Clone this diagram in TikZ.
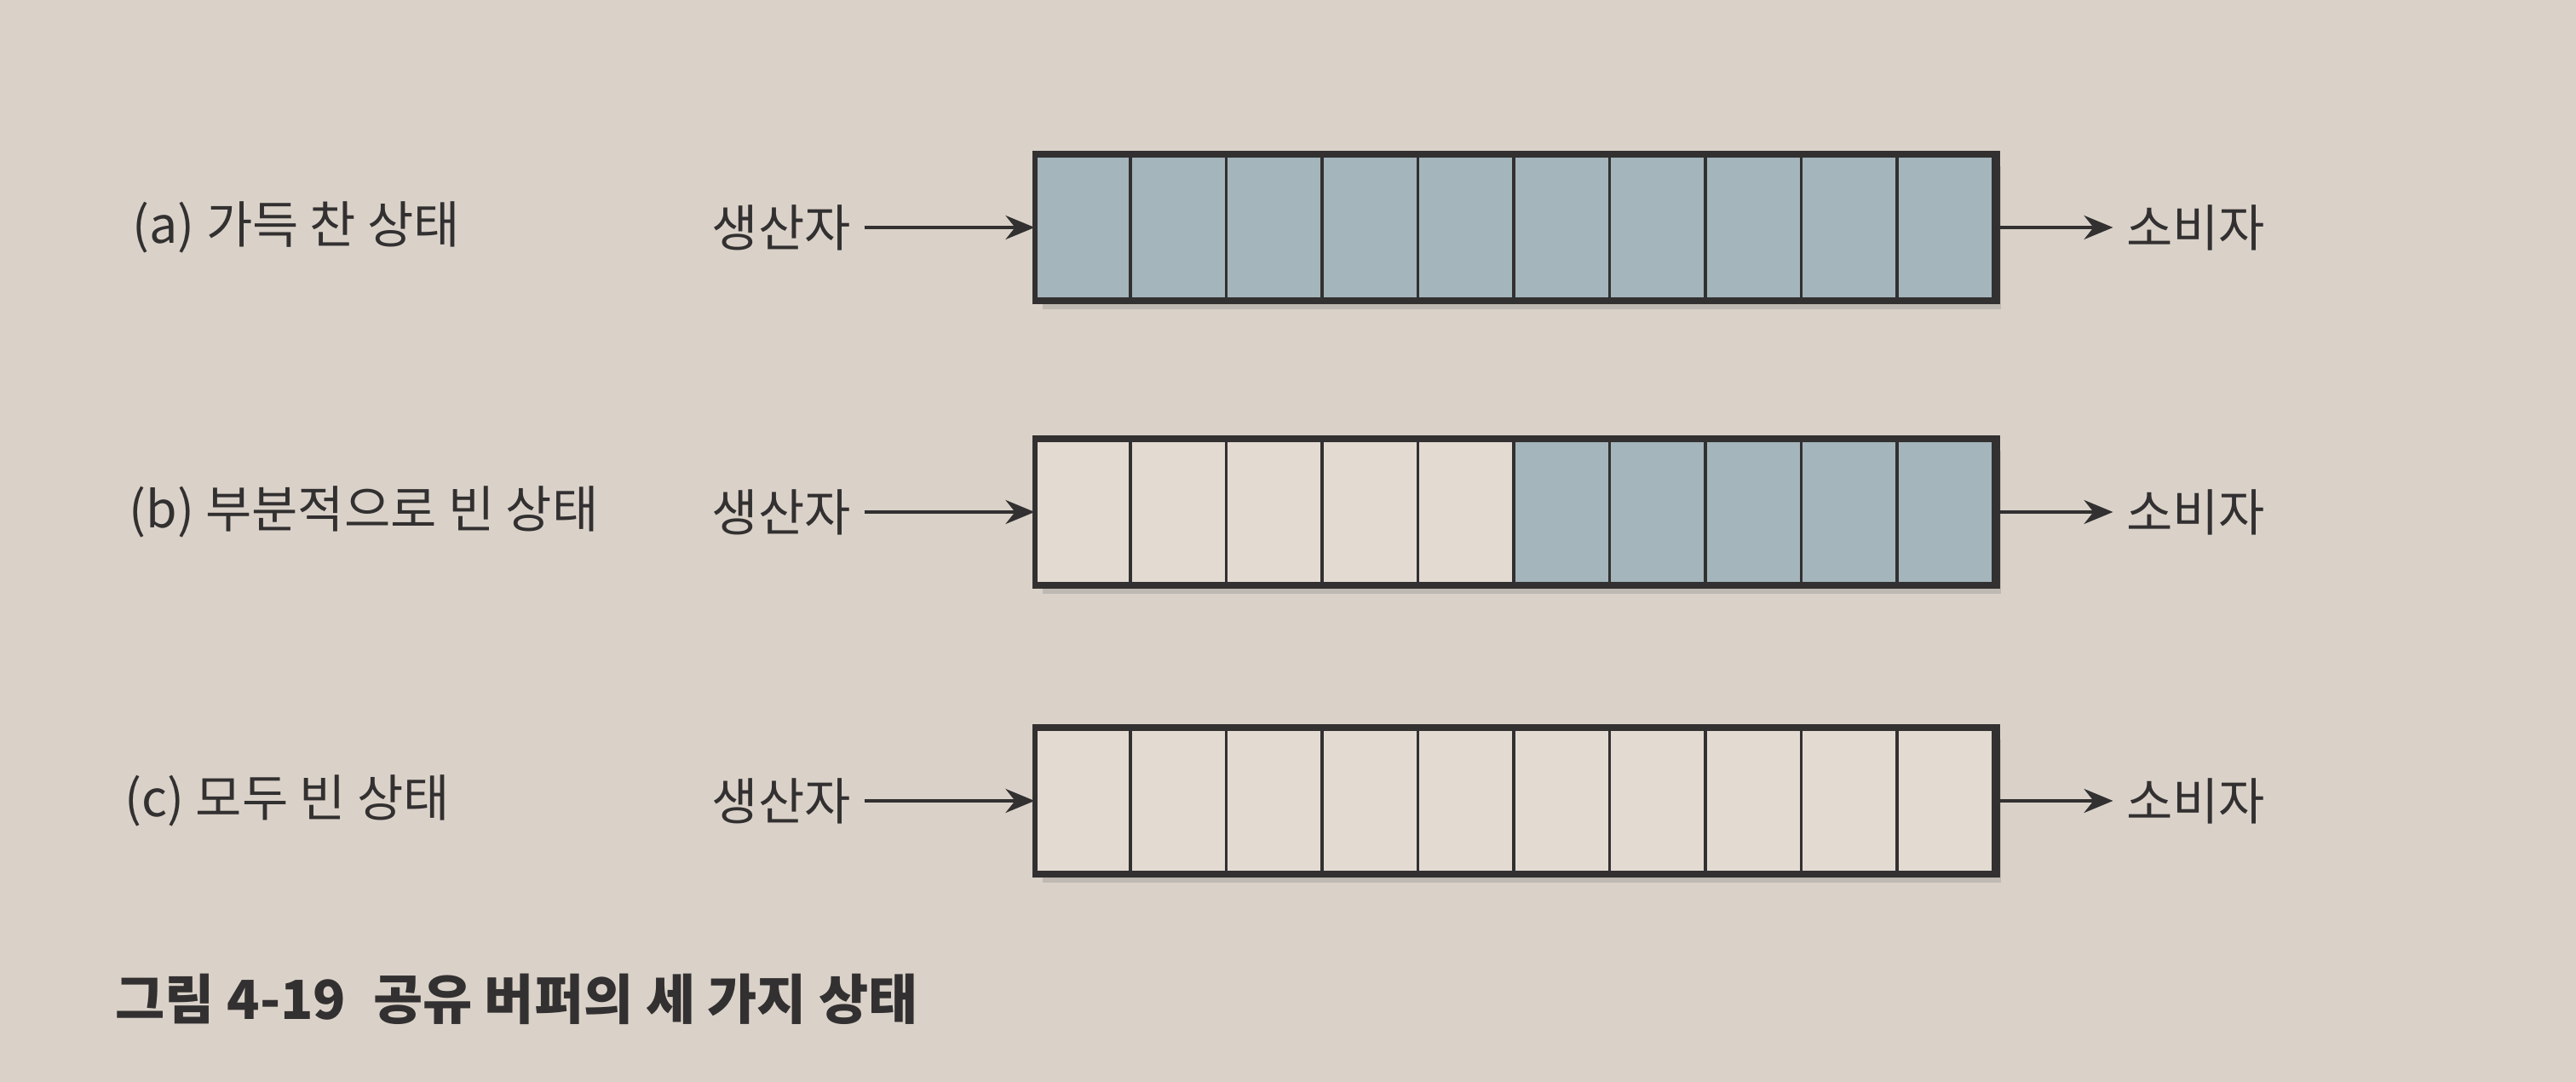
\documentclass[tikz,border=0pt]{standalone}
\usepackage{fontspec}
\setmainfont{Noto Sans CJK KR}
\usepackage{tikz}
\usetikzlibrary{positioning}
\usetikzlibrary{calc,arrows.meta,shadows}

\definecolor{paper}{RGB}{218,210,201}
\definecolor{fullcell}{RGB}{164,181,187}
\definecolor{emptycell}{RGB}{227,219,210}
\definecolor{ink}{RGB}{50,48,48}

\tikzset{
	buffer/.style={draw=ink, line width=1.7pt, minimum width=11.25cm, minimum height=1.68cm, inner sep=0pt},
	cell/.style={draw=ink, line width=1pt, minimum width=1.125cm, minimum height=1.68cm, inner sep=0pt},
	flow/.style={draw=ink, line width=1.1pt, -{Stealth[length=0.34cm,width=0.28cm]}},
	txt/.style={font=\fontsize{16.8}{19}\selectfont, text=ink, inner sep=0.15cm},
}

\begin{document}
\begin{tikzpicture}
	
	% ---------------------
	% Page
	\useasboundingbox (0,0) rectangle (30.24,12.70);
	\fill[paper] (0,0) rectangle (30.24,12.70);
	
	% ---------------------
	% Buffers
	\node[buffer, fill=paper, drop shadow={opacity=0.3, shadow xshift=0.06cm, shadow yshift=-0.12cm}] (BufA) at (17.80,10.03) {};
	\node[buffer, fill=paper, drop shadow={opacity=0.3, shadow xshift=0.06cm, shadow yshift=-0.12cm}] (BufB) at (17.80,6.69) {};
	\node[buffer, fill=paper, drop shadow={opacity=0.3, shadow xshift=0.06cm, shadow yshift=-0.12cm}] (BufC) at (17.80,3.30) {};
	
	% ---------------------
	% Cells
	\foreach \i in {1,...,10}{
		\node[cell, fill=fullcell] (CellA\i) at ($(BufA.west)+(\i*1.125-0.5625,0)$) {};
	}
	\foreach \i in {1,...,10}{
		\ifnum\i<6
			\node[cell, fill=emptycell] (CellB\i) at ($(BufB.west)+(\i*1.125-0.5625,0)$) {};
		\else
			\node[cell, fill=fullcell] (CellB\i) at ($(BufB.west)+(\i*1.125-0.5625,0)$) {};
		\fi
	}
	\foreach \i in {1,...,10}{
		\node[cell, fill=emptycell] (CellC\i) at ($(BufC.west)+(\i*1.125-0.5625,0)$) {};
	}
	
	\draw[ink, line width=1.7pt] (BufA.south west) rectangle (BufA.north east);
	\draw[ink, line width=1.7pt] (BufB.south west) rectangle (BufB.north east);
	\draw[ink, line width=1.7pt] (BufC.south west) rectangle (BufC.north east);
	
	% ---------------------
	% Labels
	\node[txt, anchor=west] (StateA) at (1.40,10.03) {(a) 가득 찬 상태};
	\node[txt, anchor=west] (StateB) at (1.36,6.69) {(b) 부분적으로 빈 상태};
	\node[txt, anchor=west] (StateC) at (1.31,3.30) {(c) 모두 빈 상태};
	
	\node[txt, left=2.0cm of BufA] (ProdA) {생산자};
	\node[txt, left=2.0cm of BufB] (ProdB) {생산자};
	\node[txt, left=2.0cm of BufC] (ProdC) {생산자};
	
	\node[txt, right=1.35cm of BufA] (ConsA) {소비자};
	\node[txt, right=1.35cm of BufB] (ConsB) {소비자};
	\node[txt, right=1.35cm of BufC] (ConsC) {소비자};
	
	% ---------------------
	% Arrows
	\draw[flow] (ProdA) -- (BufA);
	\draw[flow] (ProdB) -- (BufB);
	\draw[flow] (ProdC) -- (BufC);
	
	\draw[flow] (BufA) -- (ConsA);
	\draw[flow] (BufB) -- (ConsB);
	\draw[flow] (BufC) -- (ConsC);
	
	% ---------------------
	% Caption
	\node[txt, anchor=west, font=\fontsize{18}{21}\selectfont\bfseries] (Caption) at (1.20,0.97) {그림 4-19\hspace{0.5em}공유 버퍼의 세 가지 상태};
	
\end{tikzpicture}
\end{document}
